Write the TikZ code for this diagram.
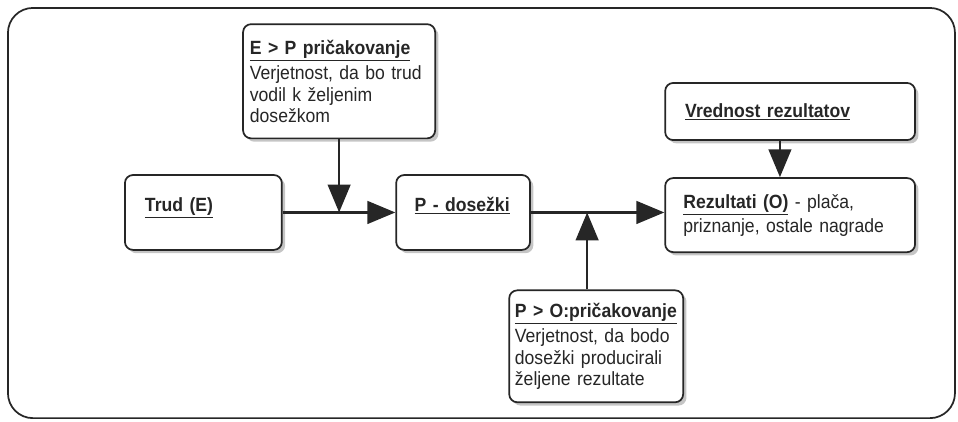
\documentclass[tikz,border=0pt]{standalone}
\usepackage{fontspec}
\setmainfont[FakeStretch=0.92]{Liberation Sans}
\usepackage{tikz}
\usetikzlibrary{arrows.meta,positioning,calc,shadows}
\definecolor{ink}{HTML}{262626}
\newcommand{\ttl}[1]{\underline{\textbf{#1}}}

\begin{document}
\begin{tikzpicture}[>=Latex,
  box/.style={draw=ink,line width=1.3pt,rounded corners=6pt,fill=white,
    drop shadow={shadow xshift=2.5pt,shadow yshift=-2.5pt,fill=black!45,opacity=.5},
    align=left,inner sep=0pt,text=ink,font=\fontsize{14.4}{16.2}\selectfont},
  conn/.style={draw=ink,line width=2pt,-{Triangle[length=21pt,width=17pt]}}]
  \useasboundingbox (0,0) rectangle (25.34,11.14);
  \draw[ink,line width=1.3pt,rounded corners=0.66cm] (0.21,0.08) rectangle (25.26,10.93);
  \node[box,minimum width=5.08cm,minimum height=3.02cm,text width=4.72cm] (ep) at (8.97,8.99)
    {\ttl{E > P pričakovanje}\\[3pt]Verjetnost, da bo trud\\vodil k željenim\\dosežkom};
  \node[box,minimum width=4.15cm,minimum height=1.98cm,text width=3.09cm,text depth=12pt] (trud) at (5.38,5.52)
    {\ttl{Trud (E)}};
  \node[box,minimum width=3.54cm,minimum height=1.98cm,text width=2.56cm,text depth=12pt] (dos) at (12.25,5.52)
    {\ttl{P - dosežki}};
  \node[box,minimum width=6.61cm,minimum height=1.96cm,text width=5.65cm] (rez) at (20.90,5.45)
    {\ttl{Rezultati (O)} - plača,\\[2pt]priznanje, ostale nagrade};
  \node[box,minimum width=6.61cm,minimum height=1.51cm,text width=5.55cm] (vred) at (20.90,8.19)
    {\ttl{Vrednost rezultatov}};
  \node[box,minimum width=4.60cm,minimum height=2.96cm,text width=4.3cm] (po) at (15.77,1.98)
    {\ttl{P > O:pričakovanje}\\[3pt]Verjetnost, da bodo\\dosežki producirali\\željene rezultate};
  \coordinate (j1) at (ep.south |- trud.east);
  \coordinate (j2) at (15.53,5.52);
  \coordinate (j3) at (20.63,0);
  \draw[conn] (trud.east) -- (dos.west);
  \draw[conn] (dos.east) -- (dos.east -| rez.west);
  \draw[conn] (ep.south) -- (j1);
  \draw[conn] (po.north -| j2) -- (j2);
  \draw[conn] (vred.south -| j3) -- (rez.north -| j3);
\end{tikzpicture}
\end{document}
